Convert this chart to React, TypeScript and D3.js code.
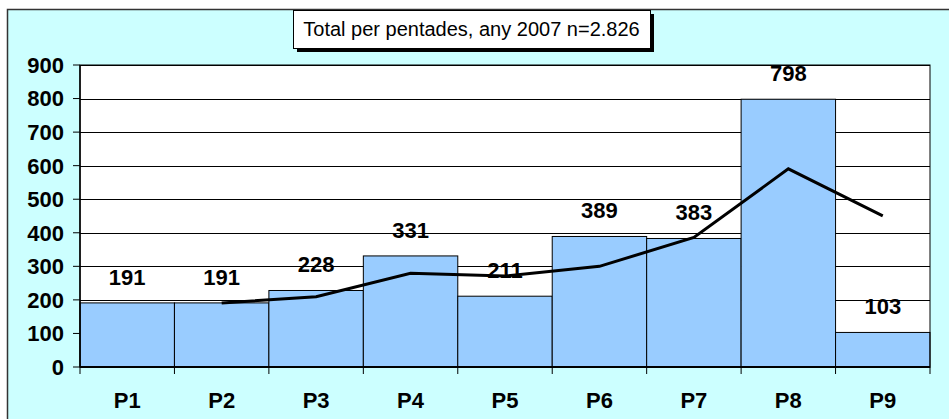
import React, { useEffect, useRef } from 'react';
import * as d3 from 'd3';

// pentade categories and counts
const categories = ['P1', 'P2', 'P3', 'P4', 'P5', 'P6', 'P7', 'P8', 'P9'];
const counts = [191, 191, 228, 331, 211, 389, 383, 798, 103];
// moving average line (starts at P2)
const trend: (number | null)[] = [null, 191, 209.5, 279.5, 271, 300, 386, 590.5, 450.5];
const yTicks = [0, 100, 200, 300, 400, 500, 600, 700, 800, 900];
const title = 'Total per pentades, any 2007 n=2.826';

const W = 949;
const H = 419;
const margin = { top: 65, right: 19, bottom: 52, left: 80 };
const font = '"Liberation Sans", Arial, sans-serif';
const labelSize = 22;

const App = () => {
    const svgRef = useRef<SVGSVGElement>(null);

    useEffect(() => {
        document.body.style.margin = '0';
        if (!svgRef.current) return;
        const svg = d3.select(svgRef.current);
        svg.selectAll('*').remove();

        const innerW = W - margin.left - margin.right;
        const innerH = H - margin.top - margin.bottom;

        // outer frame
        svg.append('rect').attr('width', W).attr('height', H).attr('fill', '#ffffff');
        svg.append('rect')
            .attr('x', 7.5).attr('y', 9.5)
            .attr('width', W + 10).attr('height', H + 10)
            .attr('fill', '#ccffff')
            .attr('stroke', '#333333').attr('stroke-width', 1.5);

        const x = d3.scaleBand().domain(categories).range([0, innerW]).padding(0);
        const y = d3.scaleLinear().domain([0, 900]).range([innerH, 0]);

        const g = svg.append('g').attr('transform', `translate(${margin.left},${margin.top})`);

        g.append('rect').attr('width', innerW).attr('height', innerH).attr('fill', '#ffffff');

        // gridlines
        g.append('g').selectAll('line')
            .data(yTicks.filter(t => t > 0))
            .join('line')
            .attr('x1', 0).attr('x2', innerW)
            .attr('y1', d => Math.round(y(d)) + 0.5).attr('y2', d => Math.round(y(d)) + 0.5)
            .attr('stroke', '#000').attr('stroke-width', 1);

        // bars
        g.append('g').selectAll('rect')
            .data(counts)
            .join('rect')
            .attr('x', (d, i) => x(categories[i])!)
            .attr('y', d => y(d))
            .attr('width', x.bandwidth())
            .attr('height', d => innerH - y(d))
            .attr('fill', '#99ccff')
            .attr('stroke', '#000').attr('stroke-width', 1);

        // plot border
        g.append('rect').attr('width', innerW).attr('height', innerH)
            .attr('fill', 'none').attr('stroke', '#000').attr('stroke-width', 1);

        // trend line
        const line = d3.line<number | null>()
            .defined(d => d !== null)
            .x((d, i) => x(categories[i])! + x.bandwidth() / 2)
            .y(d => y(d as number));
        g.append('path')
            .attr('d', line(trend))
            .attr('fill', 'none')
            .attr('stroke', '#000')
            .attr('stroke-width', 3);

        // value labels
        g.append('g').selectAll('text')
            .data(counts)
            .join('text')
            .attr('x', (d, i) => x(categories[i])! + x.bandwidth() / 2)
            .attr('y', d => y(d) - 18)
            .attr('text-anchor', 'middle')
            .attr('font-family', font).attr('font-weight', 'bold').attr('font-size', labelSize)
            .attr('fill', '#000')
            .text(d => d);

        // y axis
        const yAxis = g.append('g');
        yAxis.append('line').attr('x1', 0).attr('x2', 0).attr('y1', 0).attr('y2', innerH)
            .attr('stroke', '#000').attr('stroke-width', 1.5);
        const yt = yAxis.selectAll('g').data(yTicks).join('g')
            .attr('transform', d => `translate(0,${y(d)})`);
        yt.append('line').attr('x1', -7).attr('x2', 0).attr('stroke', '#000');
        yt.append('text')
            .attr('x', -16).attr('dy', '0.36em')
            .attr('text-anchor', 'end')
            .attr('font-family', font).attr('font-weight', 'bold').attr('font-size', labelSize)
            .text(d => d);

        // x axis
        const xAxis = g.append('g').attr('transform', `translate(0,${innerH})`);
        xAxis.append('line').attr('x1', 0).attr('x2', innerW)
            .attr('stroke', '#000').attr('stroke-width', 2);
        xAxis.selectAll('line.tick')
            .data([...categories.map(c => x(c)!), innerW])
            .join('line')
            .attr('class', 'tick')
            .attr('x1', d => d).attr('x2', d => d)
            .attr('y1', 0).attr('y2', 7)
            .attr('stroke', '#000');
        xAxis.selectAll('text')
            .data(categories)
            .join('text')
            .attr('x', d => x(d)! + x.bandwidth() / 2)
            .attr('y', 41)
            .attr('text-anchor', 'middle')
            .attr('font-family', font).attr('font-weight', 'bold').attr('font-size', labelSize)
            .text(d => d);

        // title box with shadow
        const tb = { x: 293, y: 10, w: 357, h: 38 };
        svg.append('rect').attr('x', tb.x + 4).attr('y', tb.y + 4)
            .attr('width', tb.w).attr('height', tb.h).attr('fill', '#000');
        svg.append('rect').attr('x', tb.x + 0.5).attr('y', tb.y + 0.5)
            .attr('width', tb.w).attr('height', tb.h)
            .attr('fill', '#fff').attr('stroke', '#000').attr('stroke-width', 1);
        svg.append('text')
            .attr('x', tb.x + tb.w / 2).attr('y', tb.y + tb.h / 2)
            .attr('dy', '0.36em')
            .attr('text-anchor', 'middle')
            .attr('font-family', font).attr('font-size', 20)
            .text(title);
    }, []);

    return <svg ref={svgRef} width={W} height={H} style={{ display: 'block' }}></svg>;
};

export default App;
